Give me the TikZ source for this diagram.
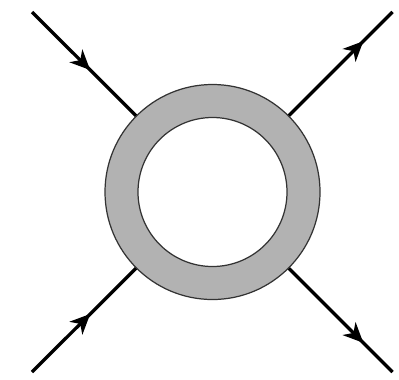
\documentclass[tikz,border=0pt]{standalone}
\usepackage{xcolor}
\definecolor{RingGray}{HTML}{B2B2B2}
\definecolor{RingEdge}{HTML}{333333}
\usetikzlibrary{arrows.meta,decorations.markings}

\begin{document}
\begin{tikzpicture}[
  ring/.style={circle,draw=RingEdge,line width=0.7pt,inner sep=0pt},
  leg/.style={line width=1.9pt,black},
  inarr/.style={postaction={decorate},decoration={markings,
    mark=at position 0.56 with {\arrow{Stealth[length=4mm,width=3.6mm,inset=1.2mm]}}}},
  outarr/.style={postaction={decorate},decoration={markings,
    mark=at position 0.72 with {\arrow{Stealth[length=4mm,width=3.6mm,inset=1.2mm]}}}}]
  \useasboundingbox (0,0) rectangle (7.98,7.58);
  \node[ring,fill=RingGray,minimum size=4.3cm](outer) at (4.25,3.74) {};
  \node[ring,fill=white,minimum size=2.98cm](hole) at (4.25,3.74) {};
  % external legs
  \coordinate (tl) at (0.64,7.34);
  \coordinate (tr) at (7.85,7.34);
  \coordinate (bl) at (0.64,0.14);
  \coordinate (br) at (7.85,0.14);
  \draw[leg,inarr](tl)--(outer);
  \draw[leg,inarr](bl)--(outer);
  \draw[leg,outarr](outer)--(tr);
  \draw[leg,outarr](outer)--(br);
\end{tikzpicture}
\end{document}
